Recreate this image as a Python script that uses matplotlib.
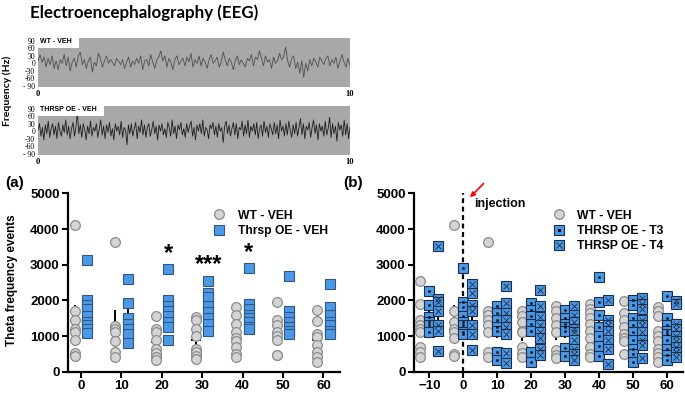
import numpy as np
import matplotlib
matplotlib.use("Agg")
import matplotlib.pyplot as plt
from matplotlib.lines import Line2D
from matplotlib.legend_handler import HandlerTuple

plt.rcParams["font.family"] = ["Liberation Sans", "DejaVu Sans"]
plt.rcParams["font.weight"] = "bold"

# ---- EEG example traces (hand read, approximate) ----
eeg_wt = [10, 35, 5, 25, -15, 20, -5, 30, -20, 10, -25, 15, 0, 35, -10, 25, -30, 5, 20, -15,
          30, 45, -5, 15, -20, 10, 25, -35, 5, -10, 40, 20, -15, 10, 30, 0, 15, 5, -10, 20,
          10, -5, 15, -20, 5, 25, -15, 10, -5, 20, 0, 30, -25, 10, 15, -10, 35, 5, -20, 15,
          25, 50, 10, 30, -15, 20, 5, -25, 15, 30, -5, 10, 20, -10, 25, 5, 40, -15, 15, 0,
          30, -10, 20, 5, -20, 15, 35, 0, 10, 25, -15, 5, 45, 15, -10, 20, 5, -25, 10, 30,
          -5, 15, 0, -15, 20, 10, 35, -10, 25, 15, 50, 20, -10, 30, 5, 15, -20, 25, 0, 10,
          40, 15, 25, 65, 10, -15, 20, 30, -20, 5, -40, 10, -55, 0, -30, 15, -10, 20, 5, -15,
          25, 10, -5, 20, 30, -10, 15, 0, 25, -20, 10, 35, 5, -15, 20, -10]
eeg_oe = [5, 30, -20, 15, -35, 25, -10, 40, -25, 10, 30, -15, 20, -30, 35, 0, -20, 25, -5, 45,
          -15, 20, -30, 10, 35, -20, 15, 75, -10, 25, -25, 30, 5, -35, 20, -10, 40, -20, 15, 0,
          30, -25, 10, 45, -15, 20, -30, 25, -5, 35, -20, 10, -35, 30, 0, 20, -15, 40, -25, 15,
          5, -55, 25, -10, 30, -20, 10, 35, -30, 20, -5, 45, -15, 25, -25, 15, 30, -20, 5, 40,
          -10, 20, -35, 25, 0, 30, -15, 10, -25, 35, 15, -20, 45, -10, 20, -30, 25, 5, 35, -15,
          10, -25, 30, -5, 20, 40, -20, 15, -35, 25, 0, 30, -10, 45, -20, 15, 5, -30, 25, 10,
          35, -15, 20, -25, 30, 0, 15, -45, 20, 40, -10, 25, -20, 10, 35, -15, 30, -30, 15, 5,
          40, -20, 25, -10, 45, -25, 20, 0, 30, -15, 35, -30, 10, 25, -20, 40, -5, 20, -25, 30,
          10, -15, 35, -10, 25, -30, 45, 0, 20, -20, 30, -15, 40, 5, -25, 25, -10, 35, -20, 15,
          50, -15, 30, -30, 20, 5, 35, -25, 15, 45, -10, 25, -35, 30, 0, 20, -20, 40, -15, 10,
          55, -25, 30, -10, 20, -40, 35, 5, 25, -20, 45, -15, 30, -30, 15]

# ---- panel (a): theta events, 0-60 min ----
times_a = [0, 10, 20, 30, 40, 50, 60]
wt_veh = [
    [4100, 1700, 1450, 1200, 1100, 900, 520, 430],
    [3650, 1280, 1200, 1100, 850, 550, 420],
    [1560, 1200, 1100, 900, 650, 520, 420, 330],
    [1520, 1450, 1200, 1000, 650, 560, 450, 370],
    [1800, 1600, 1350, 1100, 950, 850, 700, 500, 400],
    [1950, 1450, 1300, 1100, 1000, 900, 480, 460],
    [1730, 1420, 1050, 960, 740, 560, 400, 270],
]
oe_veh = [
    [3130, 2000, 1880, 1750, 1550, 1400, 1300, 1200, 1080],
    [2600, 1920, 1500, 1350, 1200, 1050, 800],
    [2870, 2000, 1850, 1700, 1550, 1400, 1250, 880],
    [2550, 2220, 2100, 1850, 1680, 1500, 1350, 1150],
    [2900, 1900, 1750, 1600, 1500, 1400, 1250, 1200],
    [2680, 1700, 1520, 1400, 1250, 1150, 1050],
    [2450, 1800, 1600, 1400, 1300, 1150, 1050],
]
sig_times = [20, 30, 40]
sig_labels = ["*", "***", "*"]

# ---- panel (b): -10 to 60 min ----
times_b = [-10, 0, 10, 20, 30, 40, 50, 60]
wt_b = [
    [2550, 1900, 1450, 1300, 1200, 1100, 700, 550, 400],
    [4100, 1700, 1400, 1200, 1100, 950, 500, 450],
    [3650, 1700, 1600, 1450, 1300, 1100, 550, 420],
    [1700, 1550, 1400, 1150, 1100, 700, 520, 400],
    [1850, 1700, 1500, 1300, 1100, 600, 480, 380],
    [1900, 1750, 1650, 1500, 1350, 1150, 950, 700, 500, 400],
    [1980, 1650, 1450, 1250, 1050, 950, 850, 500],
    [1820, 1700, 1550, 1150, 1000, 850, 650, 530, 420, 280],
]
t3_b = [
    [2270, 1880, 1530, 1400, 1300, 1120],
    [2900, 1950, 1800, 1550, 1400, 1300, 1120, 1050],
    [1850, 1650, 1450, 1250, 1130, 550, 330],
    [1930, 1720, 1550, 1350, 1150, 560, 280],
    [1720, 1500, 1330, 1250, 1150, 670, 450],
    [2650, 1950, 1600, 1250, 1000, 730, 450],
    [2000, 1880, 1500, 1300, 1100, 880, 650, 500, 280],
    [2120, 1500, 1300, 1150, 1050, 880, 650, 480, 320],
]
t4_b = [
    [3520, 2050, 1950, 1700, 1300, 1130, 580],
    [2450, 2200, 1880, 1700, 1300, 1050, 620],
    [2400, 1920, 1650, 1450, 1250, 1050, 520, 230],
    [2280, 1830, 1530, 1300, 1100, 950, 650, 480],
    [1830, 1580, 1400, 1200, 1100, 900, 650, 500, 320],
    [2020, 1450, 1300, 1150, 900, 650, 220],
    [2080, 1900, 1750, 1450, 1300, 1100, 900, 750, 380],
    [1990, 1900, 1350, 1200, 1000, 850, 700, 540, 420],
]

GREY_FACE = "#d4d4d4"
GREY_EDGE = "#8c8c8c"
BLUE = "#4a98e8"
BLUE_EDGE = "#35577d"
DARK_EDGE = "#1c2c44"

fig = plt.figure(figsize=(6.85, 3.93), dpi=100)

fig.text(0.044, 0.968, "Electroencephalography (EEG)", fontsize=12.2,
         fontweight="bold", family=["Lato", "DejaVu Sans"], va="center", ha="left")


def eeg_panel(rect, trace, label, color, lw):
    ax = fig.add_axes(rect)
    ax.set_facecolor("#a8a8a8")
    x = np.linspace(0, 10, len(trace))
    ax.plot(x, trace, color=color, lw=lw)
    ax.set_xlim(0, 10)
    ax.set_ylim(-95, 102)
    for s in ax.spines.values():
        s.set_visible(False)
    ax.set_yticks([90, 60, 30, 0, -30, -60, -90])
    ax.set_yticklabels(["90", "60", "30", "0", "-30", "-60", "- 90"])
    ax.set_xticks([0, 10])
    ax.tick_params(length=0, labelsize=6, pad=2)
    for t in ax.get_xticklabels():
        t.set_family(["Liberation Serif", "DejaVu Serif"])
        t.set_fontweight("bold")
    for t in ax.get_yticklabels():
        t.set_family(["Liberation Serif", "DejaVu Serif"])
        t.set_fontweight("normal")
        t.set_fontsize(5.5)
    ax.text(0.0, 1.0, " " + label + "  ", transform=ax.transAxes, fontsize=5,
            va="top", ha="left", zorder=5,
            bbox=dict(facecolor="white", edgecolor="none", pad=2.4))
    return ax


eeg_panel([0.0555, 0.778, 0.4555, 0.126], eeg_wt, "WT - VEH", "#4f4f4f", 0.6)
eeg_panel([0.0555, 0.606, 0.4555, 0.125], eeg_oe, "THRSP OE - VEH", "#1e1e1e", 0.6)
fig.text(0.011, 0.77, "Frequency (Hz)", rotation=90, fontsize=7.5, va="center",
         ha="center", family=["Lato", "DejaVu Sans"], fontweight="bold")


def style_axis(ax):
    for s in ["top", "right"]:
        ax.spines[s].set_visible(False)
    for s in ["left", "bottom"]:
        ax.spines[s].set_linewidth(1.6)
    ax.set_ylim(0, 5000)
    ax.set_yticks([0, 1000, 2000, 3000, 4000, 5000])
    ax.tick_params(width=1.5, length=4, labelsize=9.5, pad=2)
    for t in ax.get_xticklabels() + ax.get_yticklabels():
        t.set_fontweight("bold")


def mean_sem(ax, xpos, vals):
    v = np.array(vals, dtype=float)
    m = v.mean()
    sem = v.std(ddof=1) / np.sqrt(len(v))
    ax.plot([xpos, xpos], [m - sem, m + sem], color="black", lw=1.4, zorder=1)
    ax.plot([xpos - 0.9, xpos + 0.9], [m, m], color="black", lw=1.4, zorder=1)


# ---- panel (a) ----
axa = fig.add_axes([0.0993, 0.0542, 0.397, 0.4538])
off_a = 1.55
for t, vals in zip(times_a, wt_veh):
    xs = np.full(len(vals), t - off_a)
    mean_sem(axa, t - off_a, vals)
    axa.plot(xs, vals, "o", ms=7, mfc=GREY_FACE, mec=GREY_EDGE, mew=0.9, zorder=3)
for t, vals in zip(times_a, oe_veh):
    xs = np.full(len(vals), t + off_a)
    mean_sem(axa, t + off_a, vals)
    axa.plot(xs, vals, "s", ms=7, mfc=BLUE, mec=BLUE_EDGE, mew=0.8, zorder=3)
for t, lab in zip(sig_times, sig_labels):
    top = max(oe_veh[times_a.index(t)])
    axa.text(t + off_a, top + 120, lab, ha="center", va="bottom",
             fontsize=17, fontweight="bold")
axa.set_xlim(-3.2, 64.1)
axa.set_xticks(times_a)
style_axis(axa)
fig.text(0.018, 0.287, "Theta frequency events", rotation=90, fontsize=8.5,
         va="center", ha="center", fontweight="bold")
h_wt = Line2D([], [], ls="none", marker="o", ms=7, mfc=GREY_FACE, mec=GREY_EDGE, mew=0.9)
h_oe = Line2D([], [], ls="none", marker="s", ms=7, mfc=BLUE, mec=BLUE_EDGE, mew=0.8)
axa.legend([h_wt, h_oe], ["WT - VEH", "Thrsp OE - VEH"], loc="upper left",
           bbox_to_anchor=(0.49, 0.97), frameon=False,
           handletextpad=0.9, labelspacing=0.28, handlelength=1.2,
           prop=dict(weight="bold", size=8.7))

# ---- panel (b) ----
axb = fig.add_axes([0.6044, 0.0542, 0.3926, 0.4538])
off_b = 2.7
for t, vals in zip(times_b, wt_b):
    mean_sem(axb, t - off_b, vals)
    axb.plot(np.full(len(vals), t - off_b), vals, "o", ms=7, mfc=GREY_FACE,
             mec=GREY_EDGE, mew=0.9, zorder=3)
for t, vals in zip(times_b, t3_b):
    mean_sem(axb, t, vals)
    xs = np.full(len(vals), t)
    axb.plot(xs, vals, "s", ms=6.5, mfc=BLUE, mec=DARK_EDGE, mew=0.8, zorder=3)
    axb.plot(xs, vals, "s", ms=1.3, mfc="black", mec="black", mew=0.3, zorder=4)
for t, vals in zip(times_b, t4_b):
    mean_sem(axb, t + off_b, vals)
    xs = np.full(len(vals), t + off_b)
    axb.plot(xs, vals, "s", ms=6.5, mfc=BLUE, mec=DARK_EDGE, mew=0.8, zorder=3)
    axb.plot(xs, vals, "x", ms=4.2, mec=DARK_EDGE, mew=0.6, zorder=4)
axb.axvline(0, ymin=0, ymax=1, color="black", ls=(0, (2.2, 1.6)), lw=1.6, zorder=2)
axb.set_xlim(-14.5, 64.6)
axb.set_xticks(times_b)
style_axis(axb)
axb.annotate("", xy=(1.4, 4830), xytext=(6.5, 5330),
             arrowprops=dict(arrowstyle="-|>", color="red", lw=1.2,
                             mutation_scale=7), annotation_clip=False)
axb.text(3.3, 4700, "injection", fontsize=9, fontweight="bold", va="center", ha="left")
h_t3 = (Line2D([], [], ls="none", marker="s", ms=6.5, mfc=BLUE, mec=DARK_EDGE, mew=0.8),
        Line2D([], [], ls="none", marker="s", ms=1.3, mfc="black", mec="black"))
h_t4 = (Line2D([], [], ls="none", marker="s", ms=6.5, mfc=BLUE, mec=DARK_EDGE, mew=0.8),
        Line2D([], [], ls="none", marker="x", ms=4.2, mec=DARK_EDGE, mew=0.6))
axb.legend([h_wt, h_t3, h_t4], ["WT - VEH", "THRSP OE - T3", "THRSP OE - T4"],
           handler_map={tuple: HandlerTuple(ndivide=1, pad=0)},
           loc="upper left", bbox_to_anchor=(0.47, 0.97), frameon=False,
           handletextpad=0.9, labelspacing=0.28, handlelength=1.2,
           prop=dict(weight="bold", size=8.7))

fig.text(0.007, 0.534, "(a)", fontsize=11, fontweight="bold", va="center")
fig.text(0.501, 0.534, "(b)", fontsize=11, fontweight="bold", va="center")

fig.savefig("out.png", dpi=100)
